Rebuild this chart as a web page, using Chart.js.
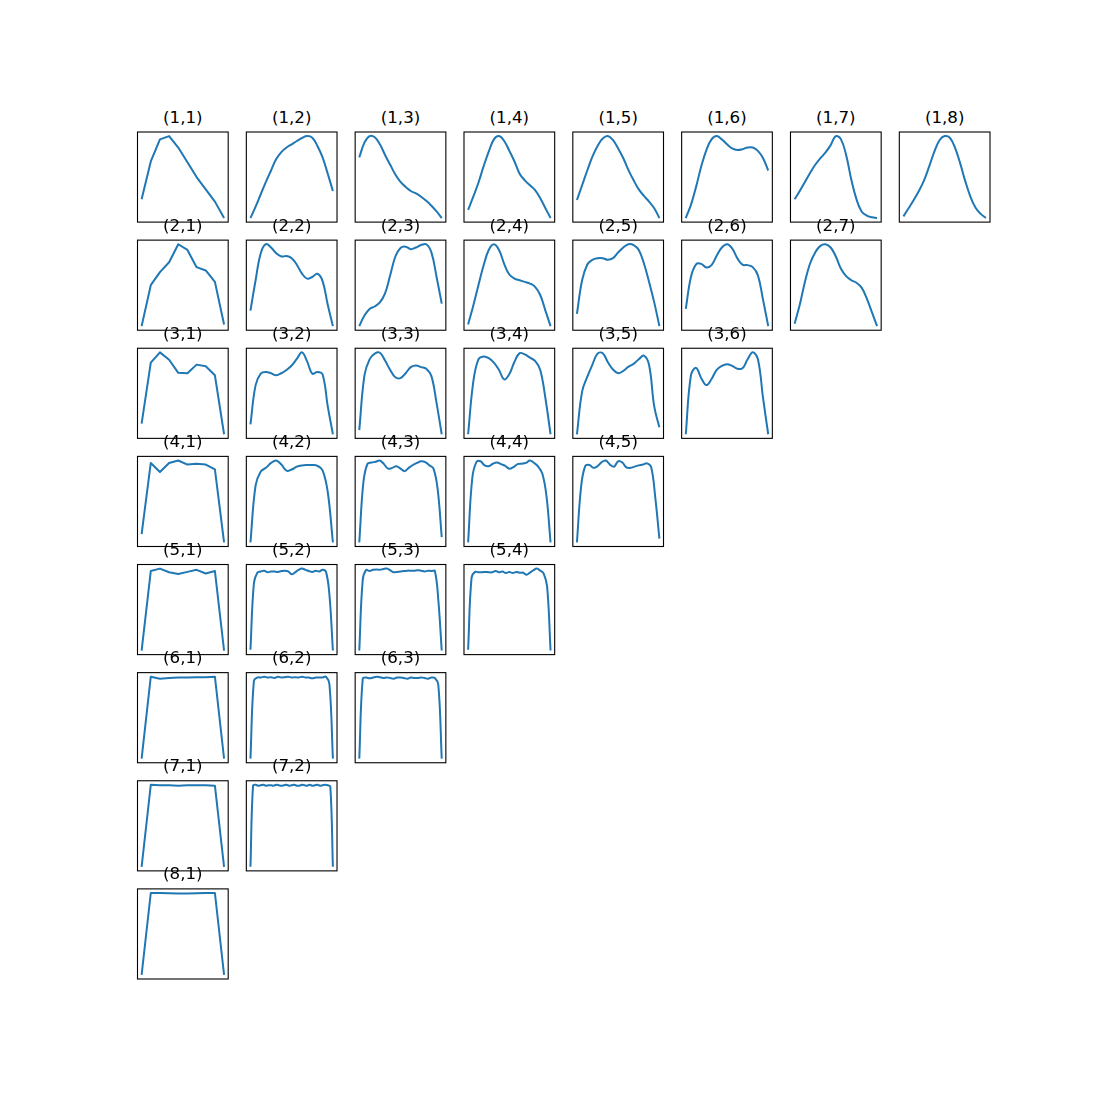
<!DOCTYPE html>
<html lang="en">
<head>
  <meta charset="UTF-8" />
  <title>Subplot grid</title>
  <script src="https://cdn.jsdelivr.net/npm/chart.js"></script>
  <style>
    html, body { margin: 0; padding: 0; background: #fff; }
    #fig { position: relative; width: 1100px; height: 1100px; background: #fff; overflow: hidden; }
    #fig canvas { position: absolute; }
    .ttl {
      position: absolute;
      text-align: center;
      font-family: "DejaVu Sans", sans-serif;
      font-size: 16.67px;
      line-height: 16.67px;
      color: #000;
      white-space: nowrap;
    }
  </style>
</head>
<body>
  <div id="fig"></div>

  <script>
    // values, 0 = curve minimum, 1 = curve maximum
    const y11 = [0.23, 0.69, 0.96, 1.0, 0.86, 0.68, 0.50, 0.35, 0.20, 0.0];
    const y12 = [0.0, 0.14, 0.29, 0.44, 0.58, 0.72, 0.805, 0.86, 0.90, 0.94, 0.977, 1.0, 0.98, 0.88, 0.74, 0.54, 0.33];
    const y13 = [0.74, 0.92, 1.0, 0.985, 0.90, 0.77, 0.65, 0.53, 0.44, 0.38, 0.33, 0.30, 0.26, 0.21, 0.15, 0.08, 0.0];
    const y14 = [0.10, 0.26, 0.43, 0.63, 0.81, 0.96, 1.0, 0.94, 0.82, 0.69, 0.54, 0.46, 0.40, 0.34, 0.24, 0.12, 0.0];
    const y15 = [0.22, 0.40, 0.58, 0.75, 0.88, 0.97, 1.0, 0.95, 0.85, 0.73, 0.585, 0.46, 0.35, 0.27, 0.20, 0.12, 0.0];
    const y16 = [0.0, 0.16, 0.38, 0.63, 0.83, 0.96, 1.0, 0.96, 0.90, 0.85, 0.83, 0.84, 0.86, 0.86, 0.82, 0.73, 0.58];
    const y17 = [0.23, 0.33, 0.44, 0.55, 0.65, 0.73, 0.80, 0.89, 1.0, 0.96, 0.77, 0.47, 0.23, 0.08, 0.03, 0.01, 0.0];
    const y18 = [0.02, 0.12, 0.22, 0.33, 0.46, 0.63, 0.81, 0.95, 1.0, 0.98, 0.86, 0.67, 0.45, 0.26, 0.125, 0.05, 0.0];

    const y21 = [0.0, 0.50, 0.66, 0.78, 1.0, 0.93, 0.72, 0.68, 0.54, 0.02];
    const y22 = [0.19, 0.56, 0.89, 1.0, 0.96, 0.89, 0.85, 0.855, 0.83, 0.75, 0.64, 0.58, 0.60, 0.64, 0.55, 0.26, 0.0];
    const y23 = [0.0, 0.13, 0.21, 0.24, 0.29, 0.40, 0.62, 0.85, 0.955, 0.97, 0.94, 0.96, 0.99, 1.0, 0.90, 0.60, 0.275];
    const y24 = [0.02, 0.25, 0.50, 0.74, 0.93, 1.0, 0.93, 0.76, 0.63, 0.58, 0.56, 0.54, 0.52, 0.48, 0.38, 0.19, 0.0];
    const y25 = [0.15, 0.56, 0.75, 0.81, 0.83, 0.83, 0.81, 0.83, 0.90, 0.96, 1.0, 0.99, 0.93, 0.765, 0.54, 0.29, 0.0];
    const y26 = [0.21, 0.60, 0.755, 0.76, 0.715, 0.745, 0.86, 0.96, 1.0, 0.95, 0.83, 0.75, 0.745, 0.72, 0.62, 0.32, 0.0];
    const y27 = [0.03, 0.26, 0.54, 0.765, 0.90, 0.98, 1.0, 0.96, 0.85, 0.70, 0.61, 0.56, 0.53, 0.47, 0.34, 0.17, 0.0];

    const y31 = [0.13, 0.875, 1.0, 0.91, 0.75, 0.745, 0.85, 0.83, 0.72, 0.0];
    const y32 = [0.12, 0.60, 0.74, 0.76, 0.745, 0.72, 0.745, 0.785, 0.84, 0.92, 1.0, 0.89, 0.74, 0.76, 0.73, 0.34, 0.0];
    const y33 = [0.05, 0.72, 0.915, 0.985, 0.995, 0.90, 0.785, 0.695, 0.685, 0.745, 0.82, 0.84, 0.82, 0.80, 0.71, 0.38, 0.0];
    const y34 = [0.0, 0.64, 0.915, 0.95, 0.93, 0.875, 0.785, 0.67, 0.735, 0.885, 0.99, 0.975, 0.935, 0.895, 0.785, 0.44, 0.0];
    const y35 = [0.0, 0.52, 0.70, 0.85, 0.985, 0.99, 0.88, 0.79, 0.745, 0.775, 0.825, 0.86, 0.915, 0.96, 0.845, 0.34, 0.085];
    const y36 = [0.0, 0.72, 0.81, 0.685, 0.60, 0.675, 0.785, 0.835, 0.855, 0.835, 0.80, 0.805, 0.915, 1.0, 0.915, 0.44, 0.0];

    const y41 = [0.10, 0.97, 0.86, 0.97, 1.0, 0.95, 0.96, 0.95, 0.89, 0.0];
    const y42 = [0.0, 0.695, 0.865, 0.91, 0.97, 1.0, 0.95, 0.875, 0.89, 0.925, 0.94, 0.945, 0.945, 0.935, 0.88, 0.615, 0.0];
    const y43 = [0.0, 0.735, 0.96, 0.975, 0.985, 1.0, 0.955, 0.90, 0.91, 0.93, 0.90, 0.87, 0.91, 0.945, 0.97, 0.99, 0.98, 0.94, 0.90, 0.655, 0.065];
    const y44 = [0.0, 0.78, 0.98, 0.99, 0.94, 0.93, 0.96, 0.975, 0.955, 0.935, 0.90, 0.92, 0.955, 0.96, 0.97, 1.0, 0.97, 0.925, 0.84, 0.57, 0.0];
    const y45 = [0.0, 0.675, 0.93, 0.945, 0.91, 0.93, 0.98, 1.0, 0.95, 0.925, 0.99, 0.975, 0.915, 0.91, 0.925, 0.94, 0.95, 0.965, 0.92, 0.55, 0.045];

    const y51 = [0.0, 0.97, 1.0, 0.955, 0.935, 0.96, 0.985, 0.94, 0.97, 0.0];
    const y52 = [0.01, 0.82, 0.95, 0.965, 0.975, 0.955, 0.965, 0.965, 0.96, 0.97, 0.975, 0.965, 0.93, 0.955, 0.985, 1.0, 0.985, 0.97, 0.96, 0.975, 0.965, 0.985, 0.96, 0.675, 0.0];
    const y53 = [0.0, 0.86, 0.985, 0.97, 0.985, 0.99, 0.985, 0.995, 1.0, 0.98, 0.955, 0.96, 0.965, 0.97, 0.975, 0.975, 0.975, 0.98, 0.975, 0.965, 0.975, 0.97, 0.97, 0.62, 0.0];
    const y54 = [0.01, 0.89, 0.96, 0.955, 0.955, 0.96, 0.955, 0.955, 0.97, 0.955, 0.965, 0.945, 0.96, 0.945, 0.96, 0.95, 0.95, 0.925, 0.95, 0.98, 1.0, 0.975, 0.94, 0.78, 0.0];

    const y61 = [0.0, 1.0, 0.975, 0.985, 0.99, 0.99, 0.995, 0.995, 1.0, 0.0];
    const y62 = [0.0, 0.95, 0.99, 0.99, 1.0, 0.99, 0.995, 0.985, 1.0, 0.99, 0.995, 1.0, 0.99, 0.995, 0.99, 1.0, 0.99, 0.99, 0.98, 0.99, 0.99, 0.99, 1.0, 0.905, 0.0];
    const y63 = [0.0, 0.975, 0.99, 0.98, 0.99, 1.0, 0.995, 0.985, 0.99, 0.985, 0.975, 0.99, 0.99, 0.985, 0.975, 0.99, 0.985, 0.985, 0.99, 0.985, 0.975, 0.99, 0.985, 0.905, 0.0];

    const y71 = [0.0, 1.0, 0.995, 0.995, 0.99, 0.995, 0.995, 0.995, 0.99, 0.0];
    const y72 = [0.0, 0.99, 1.0, 0.99, 0.995, 1.0, 0.99, 0.995, 0.995, 0.99, 1.0, 0.995, 0.99, 0.995, 1.0, 0.99, 0.995, 1.0, 0.99, 0.99, 1.0, 0.995, 0.99, 1.0, 0.99, 0.995, 1.0, 0.99, 0.995, 1.0, 0.995, 0.98, 0.0];

    const y81 = [0.0, 1.0, 1.0, 0.998, 0.995, 0.995, 0.998, 1.0, 1.0, 0.0];

    const panels = [
      [1, 1, y11], [1, 2, y12], [1, 3, y13], [1, 4, y14], [1, 5, y15], [1, 6, y16], [1, 7, y17], [1, 8, y18],
      [2, 1, y21], [2, 2, y22], [2, 3, y23], [2, 4, y24], [2, 5, y25], [2, 6, y26], [2, 7, y27],
      [3, 1, y31], [3, 2, y32], [3, 3, y33], [3, 4, y34], [3, 5, y35], [3, 6, y36],
      [4, 1, y41], [4, 2, y42], [4, 3, y43], [4, 4, y44], [4, 5, y45],
      [5, 1, y51], [5, 2, y52], [5, 3, y53], [5, 4, y54],
      [6, 1, y61], [6, 2, y62], [6, 3, y63],
      [7, 1, y71], [7, 2, y72],
      [8, 1, y81]
    ];

    // matplotlib-style grid: left .125, right .9, top .88, bottom .11, wspace/hspace .2
    const FIG = 1100;
    const axW = (0.775 * FIG) / 9.4;
    const axH = (0.77 * FIG) / 9.4;
    const x0 = 0.125 * FIG, y0 = 0.12 * FIG;

    // black box round each plot area
    const frame = {
      id: 'frame',
      afterDraw(chart) {
        const a = chart.chartArea, ctx = chart.ctx;
        ctx.save();
        ctx.strokeStyle = '#000';
        ctx.lineWidth = 1.1;
        ctx.strokeRect(a.left, a.top, a.right - a.left, a.bottom - a.top);
        ctx.restore();
      }
    };

    const fig = document.getElementById('fig');

    panels.forEach(([r, c, ys]) => {
      const L = x0 + (c - 1) * axW * 1.2;
      const T = y0 + (r - 1) * axH * 1.2;
      const cl = Math.floor(L) - 3, ct = Math.floor(T) - 3;
      const cw = Math.ceil(L + axW) + 3 - cl, ch = Math.ceil(T + axH) + 3 - ct;

      const cv = document.createElement('canvas');
      cv.width = cw; cv.height = ch;
      cv.style.left = cl + 'px'; cv.style.top = ct + 'px';
      cv.style.width = cw + 'px'; cv.style.height = ch + 'px';
      fig.appendChild(cv);

      const t = document.createElement('div');
      t.className = 'ttl';
      t.textContent = '(' + r + ',' + c + ')';
      t.style.left = L + 'px';
      t.style.width = axW + 'px';
      t.style.top = (T - 8.33 - 14.1) + 'px';
      fig.appendChild(t);

      new Chart(cv, {
        type: 'line',
        data: {
          datasets: [{
            data: ys.map((v, i) => ({ x: i / (ys.length - 1), y: v })),
            borderColor: '#1f77b4',
            borderWidth: 2,
            borderJoinStyle: 'round',
            pointRadius: 0,
            fill: false,
            // first column is drawn as straight segments, the rest smooth
            tension: c > 1 ? 0.4 : 0
          }]
        },
        options: {
          responsive: false,
          animation: false,
          events: [],
          layout: {
            padding: {
              left: L - cl,
              top: T - ct,
              right: cw - (L + axW - cl),
              bottom: ch - (T + axH - ct)
            }
          },
          plugins: {
            legend: { display: false },
            tooltip: { enabled: false }
          },
          scales: {
            x: { type: 'linear', display: false, min: -0.05, max: 1.05 },
            y: { display: false, min: -0.05, max: 1.05 }
          }
        },
        plugins: [frame]
      });
    });
  </script>
</body>
</html>
